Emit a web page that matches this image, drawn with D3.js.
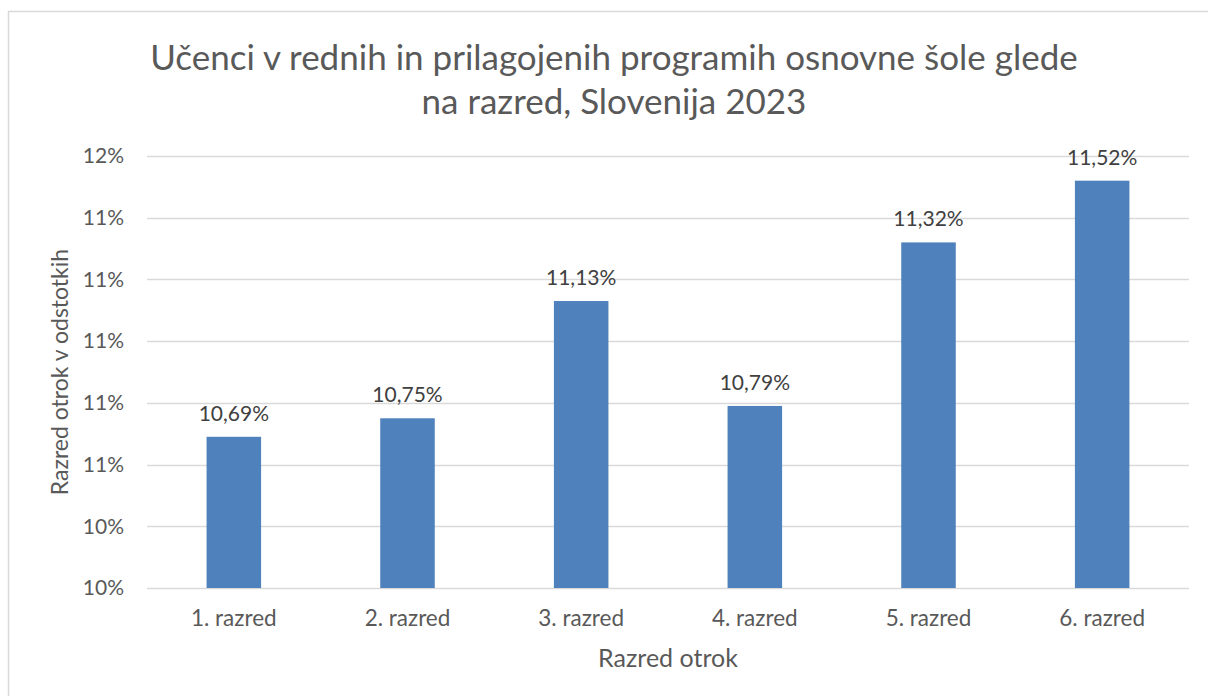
<!DOCTYPE html>
<html>
<head>
<meta charset="utf-8">
<script src="https://cdn.jsdelivr.net/npm/d3@7"></script>
<style>
  body { margin: 0; background: #fff; }
  text { font-family: Lato, "Open Sans", sans-serif; }
</style>
</head>
<body>
<svg width="1208" height="696"></svg>
<script>
const categories = ["1. razred", "2. razred", "3. razred", "4. razred", "5. razred", "6. razred"]
const values = [10.69, 10.75, 11.13, 10.79, 11.32, 11.52]
const tickValues = [10.2, 10.4, 10.6, 10.8, 11.0, 11.2, 11.4, 11.6]
const titleLines = ["Učenci v rednih in prilagojenih programih osnovne šole glede", "na razred, Slovenija 2023"]
const yTitle = "Razred otrok v odstotkih"
const xTitle = "Razred otrok"

const svg = d3.select("svg")
const margin = {top: 156, right: 19, bottom: 108, left: 147}
const width = 1208 - margin.left - margin.right
const height = 696 - margin.top - margin.bottom

// chart frame
svg.append("rect")
  .attr("x", 8.5).attr("y", 11.5)
  .attr("width", 1220).attr("height", 720)
  .attr("fill", "#fff")
  .attr("stroke", "#d9d9d9")
  .attr("stroke-width", 1.5)

const x = d3.scaleBand().domain(categories).range([0, width]).paddingInner(0.686).paddingOuter(0.343)
const y = d3.scaleLinear().domain([10.2, 11.6]).range([height, 0])

const g = svg.append("g")
  .attr("transform", "translate(" + margin.left + "," + margin.top + ")")

// gridlines
g.append("g")
  .attr("class", "grid")
  .selectAll("line")
  .data(tickValues)
  .join("line")
    .attr("x1", 0).attr("x2", width)
    .attr("y1", d => Math.round(y(d)) + 0.5)
    .attr("y2", d => Math.round(y(d)) + 0.5)
    .attr("stroke", "#d9d9d9")
    .attr("stroke-width", 1.5)

// y axis labels
const axisY = g.append("g")
  .call(d3.axisLeft(y).tickValues(tickValues).tickSize(0).tickPadding(23)
    .tickFormat(d => Math.round(d) + "%"))
axisY.select(".domain").remove()
axisY.selectAll("text")
  .attr("fill", "#595959")
  .style("font-size", "21px")

// x axis labels
const axisX = g.append("g")
  .attr("transform", "translate(0," + height + ")")
  .call(d3.axisBottom(x).tickSize(0).tickPadding(22))
axisX.select(".domain").remove()
axisX.selectAll("text")
  .attr("fill", "#595959")
  .style("font-size", "22.5px")

// bars
g.selectAll(".bar")
  .data(values)
  .join("rect")
    .attr("class", "bar")
    .attr("x", (d, i) => x(categories[i]))
    .attr("y", d => y(d))
    .attr("width", x.bandwidth())
    .attr("height", d => height - y(d))
    .attr("fill", "#4f81bd")

// data labels
g.selectAll(".label")
  .data(values)
  .join("text")
    .attr("class", "label")
    .attr("x", (d, i) => x(categories[i]) + x.bandwidth() / 2)
    .attr("y", d => y(d) - 16)
    .attr("text-anchor", "middle")
    .attr("fill", "#404040")
    .style("font-size", "21px")
    .text(d => d.toFixed(2).replace(".", ",") + "%")

// title
svg.append("text")
  .attr("x", 614)
  .attr("y", 70)
  .attr("text-anchor", "middle")
  .attr("fill", "#595959")
  .style("font-size", "35px")
  .selectAll("tspan")
  .data(titleLines)
  .join("tspan")
    .attr("x", 614)
    .attr("dy", (d, i) => i ? 44 : 0)
    .text(d => d)

// axis titles
svg.append("text")
  .attr("transform", "translate(68," + (margin.top + height / 2) + ") rotate(-90)")
  .attr("text-anchor", "middle")
  .attr("fill", "#595959")
  .style("font-size", "23px")
  .text(yTitle)

svg.append("text")
  .attr("x", margin.left + width / 2)
  .attr("y", 667)
  .attr("text-anchor", "middle")
  .attr("fill", "#595959")
  .style("font-size", "25px")
  .text(xTitle)
</script>
</body>
</html>
